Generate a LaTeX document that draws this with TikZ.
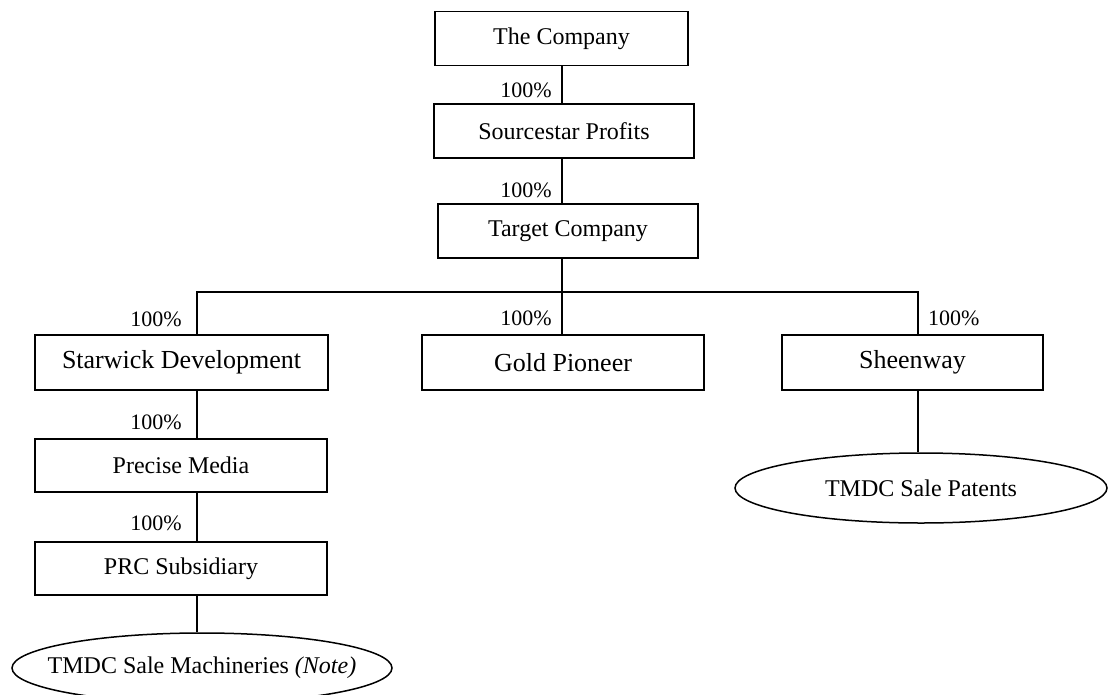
\documentclass[tikz,border=0pt]{standalone}
\usepackage{fontspec}
\setmainfont{Liberation Serif}
\usetikzlibrary{shapes.geometric}
\tikzset{
  mybox/.style={draw, rectangle, line width=1.5pt, inner sep=0pt, minimum height=54pt, font=\fontsize{24}{28}\selectfont},
  mybigbox/.style={mybox, font=\fontsize{26}{30}\selectfont},
  myoval/.style={draw, ellipse, line width=1.5pt, inner sep=0pt, minimum height=70pt, font=\fontsize{24}{28}\selectfont},
  mypct/.style={inner sep=0pt, font=\fontsize{22}{26}\selectfont},
  myedge/.style={line width=1.5pt}
}

\begin{document}
\begin{tikzpicture}[x=1pt, y=-1pt]
\clip (0,0) rectangle (1109,694);

% top chain
\coordinate (trunk) at (562,0);
\node[mybox, minimum width=253pt] (company) at (561.5,38.5) {The Company};
\node[mybox, minimum width=260pt] (sourcestar) at (564,131) {Sourcestar Profits};
\node[mybox, minimum width=260pt] (target) at (568,231) {Target Company};
\draw[myedge] (company.south -| trunk) -- (sourcestar.north -| trunk);
\draw[myedge] (sourcestar.south -| trunk) -- (target.north -| trunk);
\node[mypct, anchor=east] (pcta) at (552,90) {100\%};
\node[mypct, anchor=east] (pctb) at (552,190) {100\%};

% second level
\coordinate (barL) at (197,292);
\coordinate (barR) at (918,292);
\node[mybigbox, minimum width=293pt, minimum height=55pt] (starwick) at (181.5,362.5) {Starwick Development};
\node[mybigbox, minimum width=282pt, minimum height=55pt] (gold) at (563,362.5) {Gold Pioneer};
\node[mybigbox, minimum width=261pt, minimum height=55pt] (sheenway) at (912.5,362.5) {Sheenway};
\draw[myedge] (target.south -| trunk) -- (trunk |- barL);
\draw[myedge] (starwick.north -| barL) -- (barL) -- (barR) -- (sheenway.north -| barR);
\draw[myedge] (gold.north -| trunk) -- (trunk |- barL);
\node[mypct, anchor=east] (pctc) at (182,319) {100\%};
\node[mypct, anchor=east] (pctd) at (552,318) {100\%};
\node[mypct, anchor=west] (pcte) at (928,318) {100\%};

% left column
\coordinate (leftcol) at (197,0);
\node[mybox, minimum width=292pt, minimum height=53pt] (precise) at (181,465.5) {Precise Media};
\node[mybox, minimum width=292pt, minimum height=53pt] (prc) at (181,568.5) {PRC Subsidiary};
\node[myoval, inner xsep=-40pt, minimum width=380pt] (machines) at (202,668) {TMDC Sale Machineries \textit{(Note)}};
\draw[myedge] (starwick.south -| leftcol) -- (precise.north -| leftcol);
\draw[myedge] (precise.south -| leftcol) -- (prc.north -| leftcol);
\draw[myedge] (prc.south -| leftcol) -- (machines.north -| leftcol);
\node[mypct, anchor=east] (pctf) at (182,422) {100\%};
\node[mypct, anchor=east] (pctg) at (182,523) {100\%};

% right column
\node[myoval, minimum width=372pt] (patents) at (921,488) {TMDC Sale Patents};
\draw[myedge] (sheenway.south -| barR) -- (patents.north -| barR);
\end{tikzpicture}
\end{document}
